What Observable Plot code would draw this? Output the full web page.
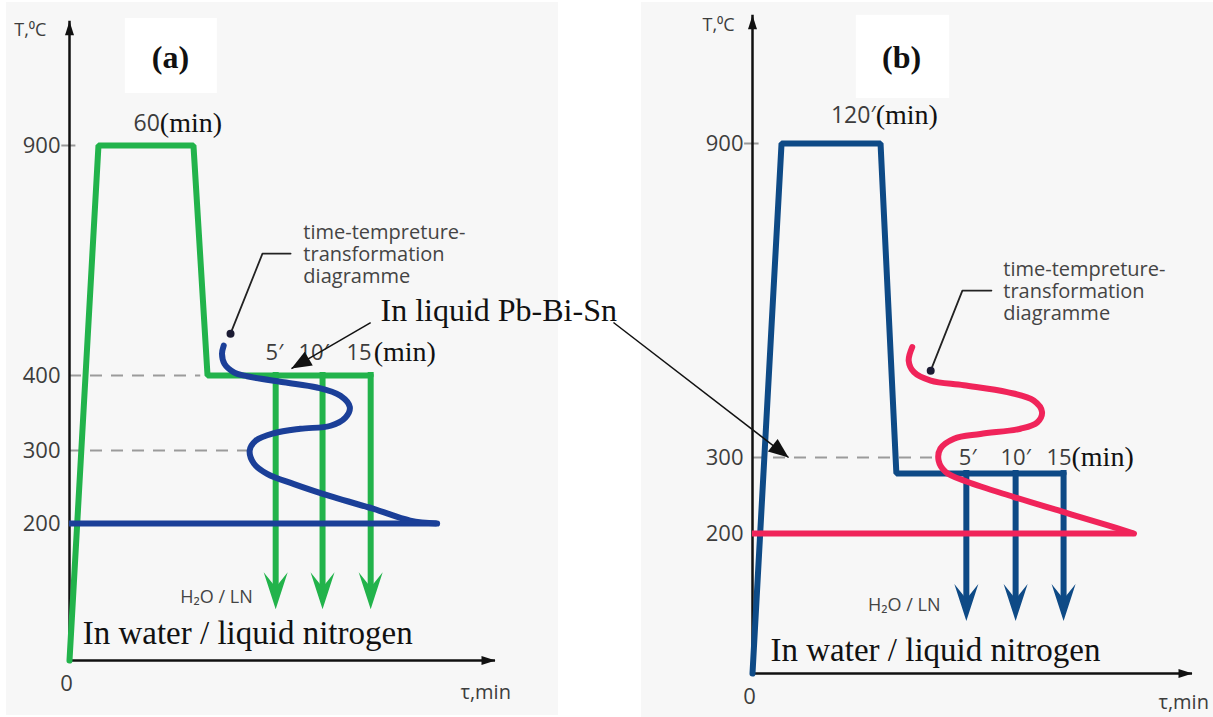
<!DOCTYPE html>
<html><head><meta charset="utf-8">
<script src="https://cdn.jsdelivr.net/npm/d3@7"></script>
<script src="https://cdn.jsdelivr.net/npm/@observablehq/plot@0.6"></script>
<style>
body{margin:0;background:#fff;}
#wrap{position:relative;width:1213px;height:717px;overflow:hidden;background:#fff;}
.panel{position:absolute;background:#f7f7f7;}
#wrap svg{position:absolute;left:0;top:0;}
</style></head><body>
<div id="wrap">
  <div class="panel" style="left:6px;top:2px;width:552px;height:713px"></div>
  <div class="panel" style="left:641px;top:2px;width:572px;height:715px"></div>
</div>
<script>
// ---------------- data (schematic time τ on a 0..100 axis, temperature in °C) ----------------
const tempTicksA = [200, 300, 400, 900];
const tempTicksB = [200, 300, 900];

const scheduleA_t = [0, 6.8, 29.1, 32.4, 70.7];
const scheduleA_T = [0, 900, 900, 400, 400];
const scheduleB_t = [0, 6.6, 29.1, 32.7, 70.7];
const scheduleB_T = [0, 900, 900, 279, 279];

const holdA = 400, holdB = 279;
const quenchA_t = [48.4, 59.4, 70.7];
const quenchB_t = [48.6, 59.8, 70.7];
const quenchEnd = 75;

const tttA_t = [36.2, 35.8, 36.4, 38.6, 41.7, 50.3, 58.1, 63.6, 65.8, 64.8, 61.3, 54.2, 48.0, 43.7, 42.3, 43.3, 46.4, 52.7, 62.0, 71.4, 80.0, 86.3];
const tttA_T = [465, 447, 425, 407, 399, 391, 384, 373, 358, 344, 333, 329, 323, 313, 300, 282, 268, 254, 236, 220, 204, 200];
const tttB_t = [36.3, 35.5, 36.7, 40.5, 48.0, 57.9, 63.9, 65.8, 64.7, 60.9, 51.8, 45.8, 42.7, 42.3, 43.9, 48.8, 59.4, 70.8, 80.6, 86.7];
const tttB_T = [511, 485, 463, 447, 438, 425, 409, 387, 367, 355, 345, 336, 317, 296, 281, 268, 248, 228, 211, 200];
const tttBase = 200;

const refLinesA = [{T: 400, t: 30.8}, {T: 300, t: 41.8}];
const refLinesB = [{T: 300, t: 42.0}];

const holdLabels = ["5′", "10′"];
const holdLabelA_t = [48.1, 57.3];
const holdLabelB_t = [48.9, 59.8];

const tttText = "time-tempreture-\ntransformation\ndiagramme";

// ---------------- style ----------------
const sans = "'Open Sans', 'Noto Sans', sans-serif";
const serif = "'Liberation Serif', 'Times New Roman', serif";
const green = "#22b34b", blueA = "#1b3f98", blueB = "#0e4a86", red = "#f0245a", ink = "#111", grey = "#3d3d3d";

function sym(pts) {
  return {draw(ctx, size) {
    const s = Math.sqrt(size / Math.PI) / 10;
    ctx.moveTo(pts[0][0] * s, pts[0][1] * s);
    for (let i = 1; i < pts.length; i++) ctx.lineTo(pts[i][0] * s, pts[i][1] * s);
    ctx.closePath();
  }};
}
const stealth = sym([[0, 0], [-12, -37], [0, -22], [12, -37]]);
const axisTip = sym([[0, 0], [-4.5, 14], [4.5, 14]]);
const pointer = sym([[0, 0], [-8, 20], [8, 20]]);

const zip = (ts, Ts) => ts.map((t, i) => ({t, T: Ts[i]}));

function panel(o) {
  const sched = zip(o.sched_t, o.sched_T);
  const ttt = zip(o.ttt_t, o.ttt_T);
  const txt = (data, opts) => Plot.text(data, {x: "t", y: "T", text: "s", ...opts});
  return Plot.plot({
    width: 1213, height: 717,
    marginLeft: o.ml, marginRight: o.mr, marginTop: o.mt, marginBottom: o.mb,
    style: {background: "transparent", fontFamily: sans, overflow: "visible"},
    x: {domain: [0, 100]},
    y: {type: "linear", domain: o.yDomain, range: o.yRange},
    marks: [
      Plot.ruleY(o.refs, {y: "T", x1: 0, x2: "t", stroke: "#9b9b9b", strokeWidth: 2, strokeDasharray: "12,9"}),
      Plot.ruleY([900], {x1: -1.8, x2: 1.5, stroke: "#999", strokeWidth: 2}),
      // axes
      Plot.ruleX([0], {y1: 0, y2: o.yTop, stroke: ink, strokeWidth: 2.5}),
      Plot.ruleY([0], {x1: 0, x2: 100, stroke: ink, strokeWidth: 2.5}),
      Plot.dot([0], {x: 0, y: o.yTop, symbol: axisTip, r: 10, fill: ink, stroke: "none"}),
      Plot.dot([0], {x: 100, y: 0, symbol: axisTip, r: 10, fill: ink, stroke: "none", rotate: 90}),
      Plot.axisY(o.ticks, {anchor: "left", tickSize: 0, tickPadding: 9, fontSize: 22, fontFamily: sans, color: grey, label: null}),
      Plot.axisX([0], {anchor: "bottom", tickSize: 0, tickPadding: 15, fontSize: 22, fontFamily: sans, color: grey, label: null, dx: -3}),
      txt([o.tLabel], {fontSize: 18, fill: grey}),
      txt([o.tauLabel], {fontSize: 20, fill: grey}),
      // panel letter
      Plot.rect([0], {x1: o.box[0], x2: o.box[1], y1: o.box[2], y2: o.box[3], fill: "#fff"}),
      txt([o.letter], {fontSize: 32, fontWeight: "bold", fontFamily: serif, fill: ink}),
      // schedule
      Plot.line(sched, {x: "t", y: "T", stroke: o.sc, strokeWidth: 6, strokeLinejoin: "miter"}),
      Plot.ruleX(o.quench, {x: d => d, y1: o.hold, y2: quenchEnd, insetBottom: 20, insetTop: -3, stroke: o.sc, strokeWidth: 6}),
      Plot.dot(o.quench, {x: d => d, y: quenchEnd, symbol: stealth, r: 10, fill: o.sc, stroke: "none"}),
      // TTT curve
      Plot.line(ttt, {x: "t", y: "T", curve: "catmull-rom", stroke: o.tc, strokeWidth: 6, strokeLinecap: "round"}),
      Plot.ruleY([tttBase], {x1: 0, x2: o.ttt_t[o.ttt_t.length - 1], stroke: o.tc, strokeWidth: 6}),
      // TTT label with leader
      Plot.line(o.leader, {x: "t", y: "T", stroke: "#222", strokeWidth: 1.8}),
      Plot.dot([o.leader[0]], {x: "t", y: "T", r: 4, fill: "#1b1b33"}),
      txt([o.tttLabel], {fontSize: 20, fill: "#444", textAnchor: "start", lineHeight: 1.1}),
      // time labels
      txt(o.topLabelSans, {fontSize: 23, fill: grey, textAnchor: "end"}),
      txt(o.topLabelSerif, {fontSize: 28, fill: ink, fontFamily: serif, textAnchor: "start"}),
      txt(o.holdLabs, {fontSize: 22, fill: grey}),
      txt([o.fifteen], {fontSize: 22, fill: grey, textAnchor: "start"}),
      txt([o.minLab], {fontSize: 28, fill: ink, fontFamily: serif, textAnchor: "start"}),
      txt([o.h2o], {fontSize: 18, fill: "#444"}),
      txt([o.water], {fontSize: 33, fill: ink, fontFamily: serif, textAnchor: "start"}),
      ...o.extra
    ]
  });
}

const plotA = panel({
  ml: 69, mr: 718, mt: 21, mb: 57,
  yDomain: [0, 200, 300, 400, 900], yRange: [660, 523, 450, 375, 145], yTop: 1170,
  ticks: tempTicksA, refs: refLinesA,
  sched_t: scheduleA_t, sched_T: scheduleA_T, sc: green, hold: holdA, quench: quenchA_t,
  ttt_t: tttA_t, ttt_T: tttA_T, tc: blueA,
  tLabel: {t: -9.2, T: 1150, s: "T,⁰C"},
  tauLabel: {t: 97.7, T: -47, s: "τ,min"},
  box: [13.1, 34.7, 1013, 1176],
  letter: {t: 23.7, T: 1091, s: "(a)"},
  leader: [{t: 37.8, T: 491}, {t: 45.3, T: 665}, {t: 51.9, T: 665}],
  tttLabel: {t: 54.9, T: 665, s: tttText},
  topLabelSans: [{t: 21.2, T: 948, s: "60"}],
  topLabelSerif: [{t: 21.2, T: 948, s: "(min)"}],
  holdLabs: holdLabels.map((s, i) => ({t: holdLabelA_t[i], T: 450, s})),
  fifteen: {t: 65.0, T: 450, s: "15"},
  minLab: {t: 71.4, T: 450, s: "(min)"},
  h2o: {t: 34.5, T: 92, s: "H₂O / LN"},
  water: {t: 3.1, T: 39, s: "In water / liquid nitrogen"},
  extra: [
    Plot.text([{t: 73.0, T: 541, s: "In liquid Pb-Bi-Sn"}], {x: "t", y: "T", text: "s", fontSize: 32, fontFamily: serif, fill: ink, textAnchor: "start"}),
    Plot.link([{t1: 70.7, T1: 515, t2: 52.1, T2: 415}], {x1: "t1", y1: "T1", x2: "t2", y2: "T2", stroke: ink, strokeWidth: 1.5}),
    Plot.dot([{t: 52.1, T: 415}], {x: "t", y: "T", symbol: pointer, r: 10, fill: ink, stroke: "none", rotate: 239.8})
  ]
});

const plotB = panel({
  ml: 752, mr: 21, mt: 15, mb: 44,
  yDomain: [0, 200, 300, 900], yRange: [673, 533, 457, 143], yTop: 1145,
  ticks: tempTicksB, refs: refLinesB,
  sched_t: scheduleB_t, sched_T: scheduleB_T, sc: blueB, hold: holdB, quench: quenchB_t,
  ttt_t: tttB_t, ttt_T: tttB_T, tc: red,
  tLabel: {t: -7.7, T: 1126, s: "T,⁰C"},
  tauLabel: {t: 98, T: -41, s: "τ,min"},
  box: [23.6, 44.8, 986, 1145],
  letter: {t: 33.9, T: 1064, s: "(b)"},
  leader: [{t: 40.5, T: 466}, {t: 47.7, T: 619}, {t: 54.3, T: 619}],
  tttLabel: {t: 57.0, T: 619, s: tttText},
  topLabelSans: [{t: 28.0, T: 954, s: "120′"}],
  topLabelSerif: [{t: 28.0, T: 954, s: "(min)"}],
  holdLabs: holdLabels.map((s, i) => ({t: holdLabelB_t[i], T: 300, s})),
  fifteen: {t: 66.8, T: 300, s: "15"},
  minLab: {t: 72.5, T: 300, s: "(min)"},
  h2o: {t: 34.5, T: 97, s: "H₂O / LN"},
  water: {t: 4.1, T: 33, s: "In water / liquid nitrogen"},
  extra: [
    Plot.link([{t1: -31.6, T1: 558, t2: 8.2, T2: 300}], {x1: "t1", y1: "T1", x2: "t2", y2: "T2", stroke: ink, strokeWidth: 1.5}),
    Plot.dot([{t: 8.2, T: 300}], {x: "t", y: "T", symbol: pointer, r: 10, fill: ink, stroke: "none", rotate: 127.7})
  ]
});

const wrap = document.getElementById("wrap");
wrap.appendChild(plotA);
wrap.appendChild(plotB);
</script>
</body></html>
